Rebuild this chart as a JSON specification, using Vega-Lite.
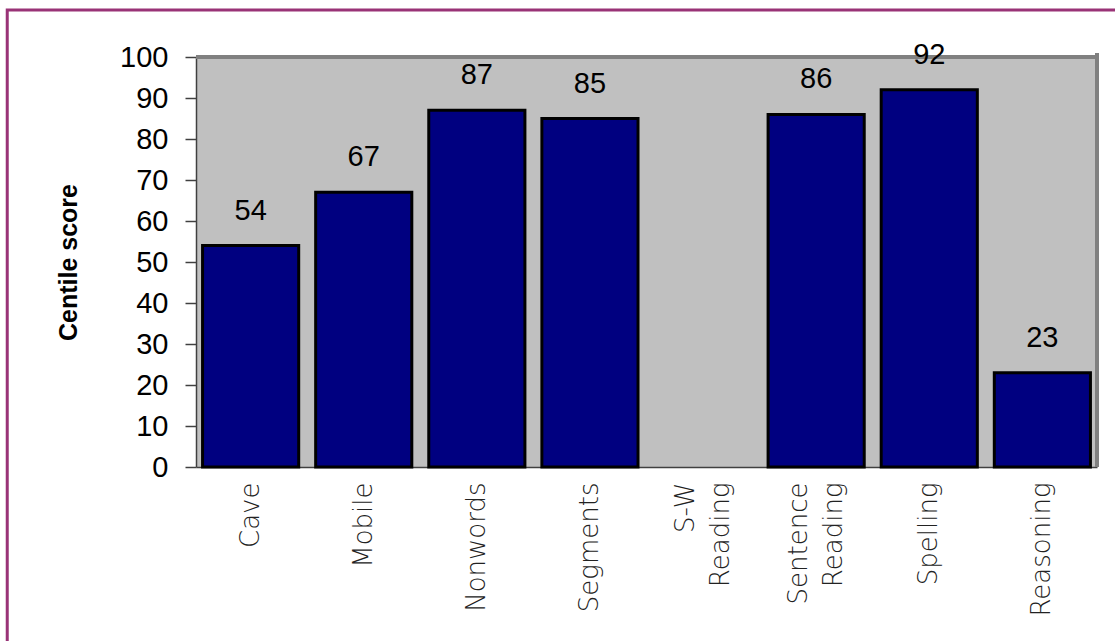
{
  "$schema": "https://vega.github.io/schema/vega-lite/v6.json",
  "width": 901,
  "height": 410,
  "autosize": {"type": "none"},
  "padding": {"left": 196, "top": 57, "right": 18, "bottom": 174},
  "background": "white",
  "config": {
    "view": {"stroke": null, "fill": "#c0c0c0"}
  },
  "data": {
    "values": [
      {"test": "Cave", "score": 54},
      {"test": "Mobile", "score": 67},
      {"test": "Nonwords", "score": 87},
      {"test": "Segments", "score": 85},
      {"test": "S-W Reading", "score": null},
      {"test": "Sentence Reading", "score": 86},
      {"test": "Spelling", "score": 92},
      {"test": "Reasoning", "score": 23}
    ]
  },
  "layer": [
    {
      "data": {"values": [{}]},
      "mark": {"type": "rect", "filled": false, "stroke": "#993377", "strokeWidth": 3, "clip": false},
      "encoding": {
        "x": {"datum": -0.2095, "type": "quantitative", "scale": {"domain": [0, 1], "nice": false, "zero": false}, "axis": null},
        "x2": {"datum": 1.1},
        "y": {"datum": 111.46, "type": "quantitative", "scale": {"domain": [0, 100], "nice": false, "zero": false}, "axis": null},
        "y2": {"datum": -50}
      }
    },
    {
      "data": {"values": [{}]},
      "mark": {"type": "rule", "stroke": "#808080", "strokeWidth": 4, "clip": false},
      "encoding": {
        "x": {"datum": 0, "type": "quantitative", "scale": {"domain": [0, 1], "nice": false, "zero": false}, "axis": null},
        "x2": {"datum": 1},
        "y": {"datum": 100, "type": "quantitative", "scale": {"domain": [0, 100], "nice": false, "zero": false}, "axis": null}
      }
    },
    {
      "data": {"values": [{}]},
      "mark": {"type": "rule", "stroke": "#808080", "strokeWidth": 4, "clip": false},
      "encoding": {
        "x": {"datum": 1, "type": "quantitative", "scale": {"domain": [0, 1], "nice": false, "zero": false}, "axis": null},
        "y": {"datum": 0, "type": "quantitative", "scale": {"domain": [0, 100], "nice": false, "zero": false}, "axis": null},
        "y2": {"datum": 101}
      }
    },
    {
      "encoding": {
        "x": {
          "field": "test",
          "type": "nominal",
          "sort": null,
          "scale": {
            "domain": ["Cave", "Mobile", "Nonwords", "Segments", "S-W Reading", "Sentence Reading", "Spelling", "Reasoning"],
            "paddingInner": 0.15,
            "paddingOuter": 0.058
          },
          "axis": {
            "title": null,
            "labelAngle": -90,
            "labelExpr": "split(datum.label, ' ')",
            "labelFont": "DejaVu Sans",
            "labelFontWeight": 200,
            "labelFontSize": 26,
            "labelLineHeight": 35,
            "labelColor": "#222222",
            "labelPadding": 15,
            "labelLimit": 400,
            "labelOffset": {"condition": {"test": "indexof(datum.value, ' ') >= 0", "value": -17.5}, "value": 0},
            "ticks": false,
            "domainColor": "#404040",
            "domainWidth": 1.5
          }
        },
        "y": {
          "field": "score",
          "type": "quantitative",
          "scale": {"domain": [0, 100], "nice": false, "zero": true},
          "axis": {
            "title": "Centile score",
            "titleFont": "Liberation Sans",
            "titleFontSize": 25,
            "titleFontWeight": "bold",
            "titleColor": "#000000",
            "titlePadding": 38,
            "values": [0, 10, 20, 30, 40, 50, 60, 70, 80, 90, 100],
            "labelFont": "Liberation Sans",
            "labelFontSize": 29,
            "labelColor": "#000000",
            "labelPadding": 17,
            "tickSize": 11,
            "tickColor": "#404040",
            "tickWidth": 1.5,
            "domainColor": "#404040",
            "domainWidth": 1.5,
            "grid": false
          }
        }
      },
      "layer": [
        {
          "mark": {"type": "bar", "fill": "#000080", "stroke": "#000000", "strokeWidth": 3}
        },
        {
          "mark": {"type": "text", "font": "Liberation Sans", "fontSize": 29, "color": "#000000", "align": "center", "baseline": "alphabetic", "dy": -26},
          "encoding": {"text": {"field": "score", "type": "quantitative"}}
        }
      ]
    }
  ],
  "resolve": {"scale": {"x": "independent", "y": "independent"}}
}
